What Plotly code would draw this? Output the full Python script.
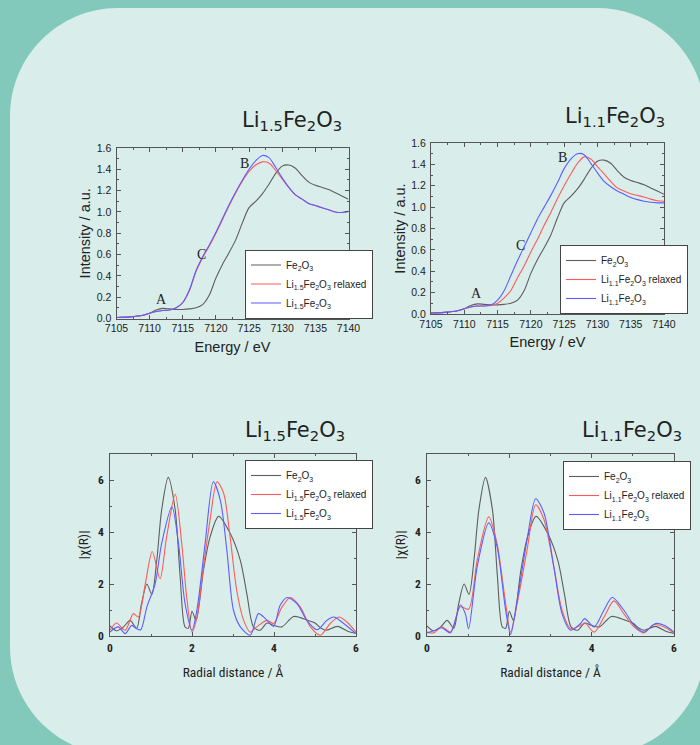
import plotly.graph_objects as go

W, H = 700, 745

# ---------------- XANES data ----------------
energy = [7105, 7107, 7109, 7110, 7111, 7112, 7113, 7114, 7115, 7116, 7117, 7118, 7119, 7120,
          7121, 7122, 7123, 7124, 7125, 7126, 7127, 7128, 7129, 7130, 7131, 7132, 7133, 7134,
          7135, 7136, 7137, 7138, 7139, 7140]
xanes_fe2o3 = [0.01, 0.015, 0.03, 0.05, 0.08, 0.095, 0.09, 0.085, 0.085, 0.09, 0.10, 0.13, 0.22, 0.38,
               0.51, 0.62, 0.74, 0.90, 1.04, 1.10, 1.17, 1.26, 1.36, 1.43, 1.44, 1.41, 1.34, 1.28,
               1.25, 1.23, 1.21, 1.18, 1.15, 1.12]
xanes_li15_relaxed = [0.01, 0.015, 0.03, 0.05, 0.065, 0.075, 0.08, 0.10, 0.15, 0.26, 0.44, 0.57, 0.68, 0.80,
                      0.93, 1.06, 1.18, 1.29, 1.38, 1.44, 1.47, 1.46, 1.39, 1.31, 1.23, 1.16, 1.12, 1.08,
                      1.06, 1.04, 1.02, 1.00, 0.995, 1.005]
xanes_li15 = [0.01, 0.015, 0.03, 0.05, 0.065, 0.075, 0.08, 0.10, 0.15, 0.27, 0.45, 0.58, 0.69, 0.81,
              0.94, 1.07, 1.19, 1.30, 1.40, 1.48, 1.53, 1.51, 1.42, 1.32, 1.23, 1.16, 1.12, 1.08,
              1.06, 1.04, 1.02, 1.00, 0.995, 1.005]
xanes_li11_relaxed = [0.01, 0.015, 0.03, 0.05, 0.065, 0.075, 0.075, 0.08, 0.10, 0.15, 0.22, 0.34, 0.45, 0.58,
                      0.70, 0.83, 0.95, 1.08, 1.20, 1.31, 1.41, 1.47, 1.45, 1.38, 1.31, 1.24, 1.18, 1.15,
                      1.125, 1.11, 1.095, 1.075, 1.06, 1.055]
xanes_li11 = [0.01, 0.015, 0.03, 0.05, 0.065, 0.075, 0.075, 0.085, 0.13, 0.22, 0.36, 0.50, 0.63, 0.76,
              0.89, 1.00, 1.11, 1.23, 1.36, 1.45, 1.50, 1.49, 1.41, 1.32, 1.24, 1.19, 1.15, 1.12,
              1.09, 1.07, 1.055, 1.045, 1.04, 1.04]

# ---------------- EXAFS data ----------------
r_fe2o3 = [0, 0.16, 0.33, 0.49, 0.65, 0.77, 0.9, 1.02, 1.14, 1.26, 1.42, 1.59, 1.71, 1.83, 1.91, 2.0,
           2.1, 2.28, 2.44, 2.65, 2.93, 3.18, 3.34, 3.5, 3.66, 3.83, 3.99, 4.19, 4.48, 4.8, 5.0, 5.15,
           5.27, 5.55, 5.8, 6.0]
chi_fe2o3 = [0.39, 0.2, 0.35, 0.6, 0.3, 1.25, 2.0, 1.6, 2.9, 4.85, 6.1, 4.85, 2.3, 0.35, 0.3, 0.95,
             0.6, 2.53, 3.8, 4.6, 3.95, 2.9, 1.6, 0.35, 0.22, 0.5, 0.41, 0.35, 0.75, 0.62, 0.5, 0.3,
             0.22, 0.37, 0.18, 0.1]

r_li15_relaxed = [0, 0.16, 0.37, 0.57, 0.69, 0.86, 1.03, 1.22, 1.38, 1.59, 1.75, 1.87, 2.0, 2.12, 2.28,
                  2.44, 2.61, 2.77, 2.93, 3.09, 3.26, 3.42, 3.58, 3.83, 3.99, 4.19, 4.4, 4.64, 4.89,
                  5.13, 5.37, 5.58, 5.78, 6.0]
chi_li15_relaxed = [0.22, 0.5, 0.22, 0.86, 0.73, 2.0, 3.25, 2.2, 3.8, 5.45, 3.55, 1.5, 0.15, 0.73, 2.66,
                    4.46, 5.93, 5.5, 3.8, 1.76, 0.6, 0.15, 0.35, 0.6, 0.48, 1.1, 1.48, 1.12, 0.35,
                    0.03, 0.48, 0.73, 0.54, 0.15]
r_li15 = [0, 0.2, 0.37, 0.53, 0.65, 0.75, 0.9, 1.1, 1.26, 1.51, 1.67, 1.83, 2.0, 2.12, 2.32, 2.52, 2.69,
          2.85, 3.01, 3.18, 3.42, 3.62, 3.79, 3.99, 4.15, 4.32, 4.56, 4.8, 5.05, 5.29, 5.46, 5.7, 6.0]
chi_li15 = [0.15, 0.35, 0.09, 0.41, 0.28, 0.24, 1.12, 2.0, 3.56, 4.97, 3.56, 1.25, 0.22, 1.0, 3.56, 5.93,
            5.23, 3.3, 1.0, 0.35, 0.03, 0.86, 0.67, 0.37, 1.18, 1.48, 1.25, 0.6, 0.24, 0.6, 0.73, 0.48,
            0.09]

r_li11_relaxed = [0, 0.16, 0.36, 0.57, 0.81, 1.01, 1.22, 1.5, 1.7, 1.91, 2.03, 2.19, 2.43, 2.64, 2.84,
                  3.08, 3.28, 3.49, 3.73, 3.85, 4.06, 4.3, 4.54, 4.78, 5.03, 5.27, 5.51, 5.76, 6.0]
chi_li11_relaxed = [0.15, 0.12, 0.35, 0.15, 1.12, 1.03, 2.93, 4.58, 3.57, 1.25, 0.15, 1.25, 3.3, 5.05,
                    4.48, 2.67, 1.0, 0.28, 0.41, 0.48, 0.15, 0.73, 1.35, 0.86, 0.35, 0.12, 0.44, 0.35,
                    0.12]
r_li11 = [0, 0.2, 0.36, 0.57, 0.81, 0.93, 1.01, 1.22, 1.5, 1.7, 1.91, 2.03, 2.19, 2.43, 2.64, 2.84,
          3.08, 3.28, 3.49, 3.73, 3.83, 4.06, 4.3, 4.5, 4.78, 5.03, 5.27, 5.55, 5.76, 6.0]
chi_li11 = [0.12, 0.22, 0.32, 0.12, 1.19, 0.86, 0.28, 2.67, 4.35, 3.45, 1.0, 0.06, 1.38, 3.7, 5.28,
            4.74, 2.67, 0.86, 0.22, 0.48, 0.67, 0.35, 1.0, 1.48, 1.0, 0.41, 0.15, 0.48, 0.41, 0.15]

# labels
FE2O3 = "Fe<sub>2</sub>O<sub>3</sub>"
LI15 = "Li<sub>1.5</sub>Fe<sub>2</sub>O<sub>3</sub>"
LI11 = "Li<sub>1.1</sub>Fe<sub>2</sub>O<sub>3</sub>"
TITLE15 = "Li<sub>1.5</sub>Fe<sub>2</sub>O<sub>3</sub>"
TITLE11 = "Li<sub>1.1</sub>Fe<sub>2</sub>O<sub>3</sub>"
peak_labels = ["A", "B", "C"]
peak_pos_15 = [(7111.8, 0.18), (7124.3, 1.45), (7117.8, 0.60)]
peak_pos_11 = [(7111.8, 0.19), (7124.7, 1.46), (7118.4, 0.64)]

C_FE = "#5e5e5e"
C_RED = "#ff5a5a"
C_BLUE = "#5d5dff"

def px(x):
    return x / W

def py(y):
    return 1 - y / H

fig = go.Figure()

def add(xs, ys, name, color, n, leg):
    fig.add_trace(go.Scatter(
        x=xs, y=ys, name=name, mode="lines",
        line=dict(color=color, width=1.1, shape="spline", smoothing=0.8),
        xaxis="x" if n == 1 else f"x{n}", yaxis="y" if n == 1 else f"y{n}",
        legend=leg, showlegend=True))

add(energy, xanes_fe2o3, FE2O3, C_FE, 1, "legend")
add(energy, xanes_li15_relaxed, LI15 + " relaxed", C_RED, 1, "legend")
add(energy, xanes_li15, LI15, C_BLUE, 1, "legend")
add(energy, xanes_fe2o3, FE2O3, C_FE, 2, "legend2")
add(energy, xanes_li11_relaxed, LI11 + " relaxed", C_RED, 2, "legend2")
add(energy, xanes_li11, LI11, C_BLUE, 2, "legend2")
add(r_fe2o3, chi_fe2o3, FE2O3, C_FE, 3, "legend3")
add(r_li15_relaxed, chi_li15_relaxed, LI15 + " relaxed", C_RED, 3, "legend3")
add(r_li15, chi_li15, LI15, C_BLUE, 3, "legend3")
add(r_fe2o3, chi_fe2o3, FE2O3, C_FE, 4, "legend4")
add(r_li11_relaxed, chi_li11_relaxed, LI11 + " relaxed", C_RED, 4, "legend4")
add(r_li11, chi_li11, LI11, C_BLUE, 4, "legend4")

SANS = "Liberation Sans, Arial"
NARROW = "Liberation Sans Narrow, Roboto Condensed, Liberation Sans"
TOPTICK = dict(family=SANS, size=10.5, color="#222")
BOTTICK = dict(family=NARROW, size=11.5, color="#222", weight="bold")
AXCOL = "#555"

def axis(domain, anchor, rng, dtick, minor_dtick, title, tfont, standoff, tickfont, tls):
    return dict(domain=domain, anchor=anchor, range=rng, dtick=dtick, tick0=rng[0],
                showgrid=False, zeroline=False, showline=True, linecolor=AXCOL, linewidth=1,
                mirror="ticks", ticks="inside", ticklen=4, tickcolor=AXCOL,
                minor=dict(dtick=minor_dtick, ticks="inside", ticklen=2, tickcolor=AXCOL, showgrid=False),
                tickfont=tickfont, ticklabelstandoff=tls, automargin=False,
                title=dict(text=title, font=tfont, standoff=standoff))

TT_TOP = dict(family=SANS, size=14.5, color="#222")
TT_BOT = dict(family=NARROW, size=13.5, color="#222")

layout = dict(
    width=W, height=H, autosize=False,
    margin=dict(l=0, r=0, t=0, b=0, pad=0, autoexpand=False),
    paper_bgcolor="#82c8bb", plot_bgcolor="rgba(0,0,0,0)",
    xaxis=axis([px(116.5), px(348.5)], "y", [7105, 7140], 5, 2.5, "Energy / eV", TT_TOP, 8, TOPTICK, 0),
    yaxis=axis([py(318.5), py(148)], "x", [0, 1.6], 0.2, 0.1, "Intensity / a.u.", TT_TOP, 2, TOPTICK, 2),
    xaxis2=axis([px(431), px(664)], "y2", [7105, 7140], 5, 2.5, "Energy / eV", TT_TOP, 8, TOPTICK, 0),
    yaxis2=axis([py(314), py(143)], "x2", [0, 1.6], 0.2, 0.1, "Intensity / a.u.", TT_TOP, 2, TOPTICK, 2),
    xaxis3=axis([px(110), px(356)], "y3", [0, 6], 2, 1, "Radial distance / Å", TT_BOT, 13, BOTTICK, 1),
    yaxis3=axis([py(636), py(454)], "x3", [0, 7], 2, 1, "|χ(R)|", TT_BOT, 6, BOTTICK, 3),
    xaxis4=axis([px(427), px(674)], "y4", [0, 6], 2, 1, "Radial distance / Å", TT_BOT, 13, BOTTICK, 1),
    yaxis4=axis([py(636), py(454)], "x4", [0, 7], 2, 1, "|χ(R)|", TT_BOT, 6, BOTTICK, 3),
)
layout["yaxis"]["tickformat"] = ".1f"
layout["yaxis2"]["tickformat"] = ".1f"

legfont = dict(family=SANS, size=10, color="#222")
def leg(x, y, anchor):
    return dict(x=px(x), y=py(y), xanchor="left", yanchor=anchor, bgcolor="white",
                bordercolor="#444", borderwidth=1, font=legfont, itemwidth=30,
                tracegroupgap=0)
layout["legend"] = leg(245, 318.5, "bottom")
layout["legend2"] = leg(560, 314, "bottom")
layout["legend3"] = leg(245, 460, "top")
layout["legend4"] = leg(563, 461, "top")

fig.update_layout(**layout)

# rounded light panel behind everything
x0, x1, y0, y1, r = 10, 705, 8, 755, 108
k = 0.5523 * r
def P(x, y):
    return f"{px(x):.5f},{py(y):.5f}"
path = (f"M {P(x0 + r, y0)} L {P(x1 - r, y0)} "
        f"C {P(x1 - r + k, y0)} {P(x1, y0 + r - k)} {P(x1, y0 + r)} "
        f"L {P(x1, y1 - r)} "
        f"C {P(x1, y1 - r + k)} {P(x1 - r + k, y1)} {P(x1 - r, y1)} "
        f"L {P(x0 + r, y1)} "
        f"C {P(x0 + r - k, y1)} {P(x0, y1 - r + k)} {P(x0, y1 - r)} "
        f"L {P(x0, y0 + r)} "
        f"C {P(x0, y0 + r - k)} {P(x0 + r - k, y0)} {P(x0 + r, y0)} Z")
fig.add_shape(type="path", path=path, xref="paper", yref="paper",
              fillcolor="#d9eeeb", line=dict(width=0), layer="below")

# panel titles
tfont = dict(family="DejaVu Sans, Liberation Sans", size=21, color="#222")
for txt, x, y in [(TITLE15, 344, 121), (TITLE11, 667, 117), (TITLE15, 347, 431), (TITLE11, 684, 431)]:
    fig.add_annotation(text=txt, x=px(x), y=py(y), xref="paper", yref="paper",
                       xanchor="right", yanchor="middle", showarrow=False, font=tfont)

# peak labels A, B, C
sfont = dict(family="Liberation Serif, DejaVu Serif", size=14, color="#222")
for lab, (ex, iy) in zip(peak_labels, peak_pos_15):
    fig.add_annotation(text=lab, x=ex, y=iy, xref="x", yref="y", showarrow=False, font=sfont)
for lab, (ex, iy) in zip(peak_labels, peak_pos_11):
    fig.add_annotation(text=lab, x=ex, y=iy, xref="x2", yref="y2", showarrow=False, font=sfont)

fig.write_html("out.html")
